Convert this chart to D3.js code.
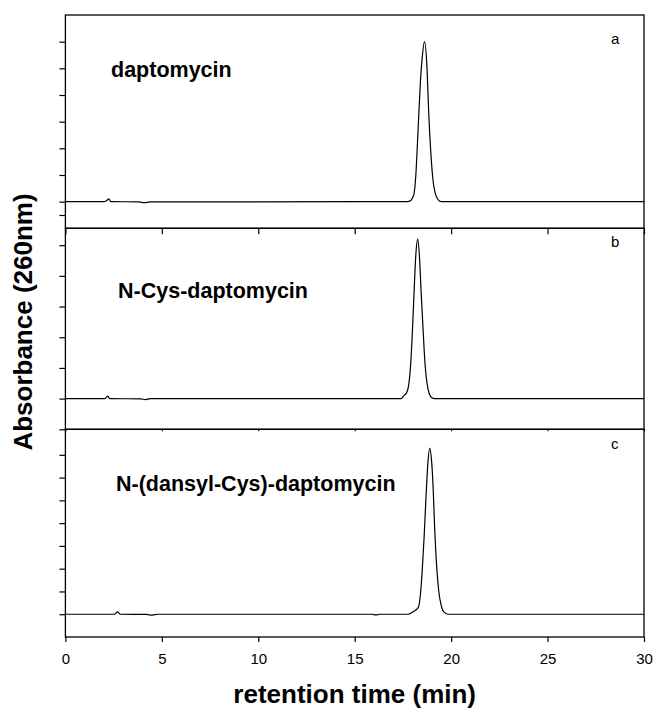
<!DOCTYPE html>
<html>
<head>
<meta charset="utf-8">
<script src="https://cdn.jsdelivr.net/npm/d3@7"></script>
<style>
  body { margin: 0; background: #fff; }
  svg { display: block; font-family: "Liberation Sans", Arial, sans-serif; }
  .frame { fill: none; stroke: #000; stroke-width: 1.3; }
  .trace { fill: none; stroke: #000; stroke-width: 1.2; }
  .axis path { display: none; }
  .axis line { stroke: #000; stroke-width: 1.2; }
  .axis text { font-size: 15px; fill: #000; }
</style>
</head>
<body>
<svg id="chart" width="654" height="711"></svg>
<script>
/*
 * Chromatogram values: [time (min), absorbance (arb. units)]
 */
var xTicks = [0, 5, 10, 15, 20, 25, 30];

var traceA = [
  [0, 1.0], [2.0, 1.0], [2.15, 1.05], [2.25, 1.1], [2.35, 1.0], [3.8, 0.99], [4.1, 0.96],
  [4.4, 0.99], [17.6, 1.0], [17.85, 1.02], [18.06, 1.25], [18.17, 2.0], [18.28, 3.6],
  [18.4, 5.4], [18.5, 6.4], [18.62, 7.0], [18.75, 6.0], [18.84, 4.3], [18.95, 2.8],
  [19.06, 1.8], [19.18, 1.3], [19.32, 1.08], [19.5, 1.0], [30, 1.0]
];
var traceB = [
  [0, 1.0], [2.05, 1.0], [2.2, 1.08], [2.3, 1.0], [3.9, 0.99], [4.15, 0.97], [4.4, 1.0],
  [17.4, 1.0], [17.55, 1.1], [17.7, 1.2], [17.8, 1.45], [17.9, 2.1], [18.0, 3.3],
  [18.08, 4.5], [18.17, 5.7], [18.27, 6.2], [18.36, 5.6], [18.45, 4.4], [18.55, 3.2],
  [18.65, 2.1], [18.75, 1.5], [18.87, 1.15], [19.0, 1.03], [19.15, 1.0], [30, 1.0]
];
var traceC = [
  [0, 1.0], [2.55, 1.0], [2.7, 1.1], [2.85, 1.0], [4.2, 0.99], [4.5, 0.96], [4.8, 1.0],
  [15.9, 1.0], [16.1, 0.97], [16.3, 1.0], [17.77, 1.0], [18.05, 1.12], [18.3, 1.3],
  [18.4, 1.8], [18.5, 2.9], [18.6, 4.4], [18.7, 6.2], [18.8, 7.7], [18.89, 8.3],
  [18.98, 7.8], [19.07, 6.5], [19.15, 4.7], [19.25, 3.1], [19.36, 2.0], [19.48, 1.4],
  [19.62, 1.1], [19.84, 1.0], [30, 1.0]
];

var panelNames = ['daptomycin', 'N-Cys-daptomycin', 'N-(dansyl-Cys)-daptomycin'];
var panelLetters = ['a', 'b', 'c'];
var yTicksA = [0.5, 1, 2, 3, 4, 5, 6, 7];
var yTicksB = [0, 1, 2, 3, 4, 5, 6];
var yTicksC = [1, 2, 3, 4, 5, 6, 7, 8];

var svg = d3.select('#chart');

var left = 65.4, right = 644;

var x = d3.scaleLinear().domain([0, 30]).range([left, right]);

/*
 * Each panel: its own pixel band and y domain
 */
var panels = [
  { data: traceA, top: 15, bottom: 228.3, yMax: 8, ticks: yTicksA, tickX: 6,
    labelX: 111, labelY: 77, letterY: 44 },
  { data: traceB, top: 228.3, bottom: 429.3, yMax: 6.55, ticks: yTicksB, tickX: 2,
    labelX: 118, labelY: 298, letterY: 247 },
  { data: traceC, top: 429.3, bottom: 637, yMax: 9.12, ticks: yTicksC, tickX: 5,
    labelX: 116, labelY: 491, letterY: 449 }
];

var line = d3.line()
  .x(function(d) { return x(d[0]); })
  .curve(d3.curveMonotoneX);

panels.forEach(function(p, i) {
  var y = d3.scaleLinear().domain([0, p.yMax]).range([p.bottom, p.top]);
  var g = svg.append('g').attr('class', 'panel');

  g.append('path')
    .datum(p.data)
    .attr('class', 'trace')
    .attr('d', line.y(function(d) { return y(d[1]); }));

  // left axis, outward ticks, no labels
  g.append('g')
    .attr('class', 'axis axis--y')
    .attr('transform', 'translate(' + left + ',0)')
    .call(d3.axisLeft(y).tickValues(p.ticks).tickSize(6).tickFormat(''));

  // bottom axis
  var isLast = i === panels.length - 1;
  g.append('g')
    .attr('class', 'axis axis--x')
    .attr('transform', 'translate(0,' + p.bottom + ')')
    .call(d3.axisBottom(x).tickValues(xTicks).tickSize(p.tickX)
      .tickPadding(11)
      .tickFormat(isLast ? d3.format('d') : ''));

  g.append('rect')
    .attr('class', 'frame')
    .attr('x', left)
    .attr('y', p.top)
    .attr('width', right - left)
    .attr('height', p.bottom - p.top);

  g.append('text')
    .attr('x', p.labelX)
    .attr('y', p.labelY)
    .attr('font-size', 21.5)
    .attr('font-weight', 'bold')
    .text(panelNames[i]);

  g.append('text')
    .attr('x', 611)
    .attr('y', p.letterY)
    .attr('font-size', 15)
    .text(panelLetters[i]);
});

svg.append('text')
  .attr('x', (left + right) / 2)
  .attr('y', 703)
  .attr('text-anchor', 'middle')
  .attr('font-size', 26)
  .attr('font-weight', 'bold')
  .text('retention time (min)');

svg.append('text')
  .attr('transform', 'translate(32,322) rotate(-90)')
  .attr('text-anchor', 'middle')
  .attr('font-size', 26)
  .attr('font-weight', 'bold')
  .text('Absorbance (260nm)');
</script>
</body>
</html>
